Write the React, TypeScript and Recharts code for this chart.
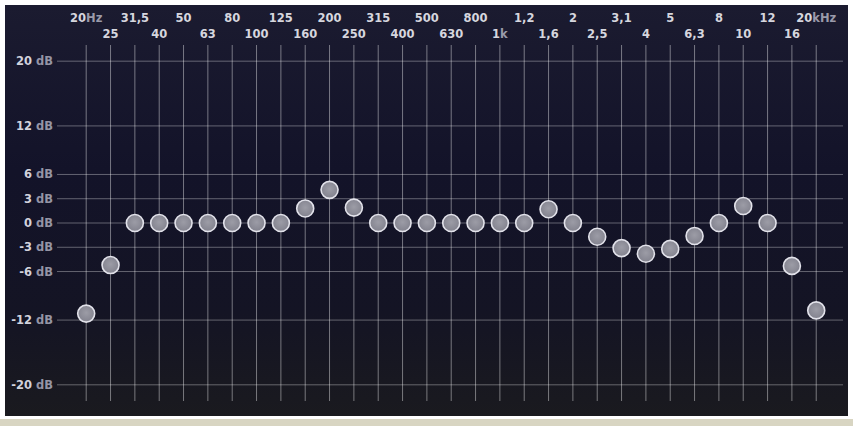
import React from 'react';
import { ScatterChart, Scatter, XAxis, YAxis, ReferenceLine } from 'recharts';

const bandLabels = [
    '20Hz', '25', '31,5', '40', '50', '63', '80', '100', '125', '160',
    '200', '250', '315', '400', '500', '630', '800', '1k', '1,2', '1,6',
    '2', '2,5', '3,1', '4', '5', '6,3', '8', '10', '12', '16', '20kHz',
];

const gainValues = [
    -11.2, -5.2, 0, 0, 0, 0, 0, 0, 0, 1.8,
    4.1, 1.9, 0, 0, 0, 0, 0, 0, 0, 1.7,
    0, -1.7, -3.1, -3.8, -3.2, -1.6, 0, 2.1, 0, -5.3, -10.8,
];

const dbTicks = [-20, -12, -6, -3, 0, 3, 6, 12, 20];

const data = gainValues.map((gain, i) => ({ i, gain }));

const FONT = '"DejaVu Sans", sans-serif';

function splitUnit(label: string) {
    const m = label.match(/^([\d,]+)(.*)$/);
    return m ? [m[1], m[2]] : [label, ''];
}

function FreqTick(props: any) {
    const { x, payload } = props;
    const idx = payload.value as number;
    const [num, unit] = splitUnit(bandLabels[idx]);
    const y = idx % 2 === 0 ? 22 : 38;
    return (
        <text x={x} y={y} textAnchor="middle" fontFamily={FONT} fontWeight="bold" fontSize={11.5}>
            <tspan fill="#d6d6de">{num}</tspan>
            {unit && <tspan fill="#9a9aaa">{unit}</tspan>}
        </text>
    );
}

function DbTick(props: any) {
    const { y, payload } = props;
    return (
        <text x={53} y={y + 4} textAnchor="end" fontFamily={FONT} fontWeight="bold" fontSize={11.5}>
            <tspan fill="#d2d2dc">{payload.value}</tspan>
            <tspan fill="#9595a5"> dB</tspan>
        </text>
    );
}

function Knob(props: any) {
    const { cx, cy } = props;
    return <circle cx={cx} cy={cy} r={8.5} fill="url(#knobFill)" stroke="#e2e2ea" strokeWidth={1.6} />;
}

export default function App() {
    return (
        <div style={{ position: 'absolute', left: 0, top: 0, width: 853, height: 426, background: '#ffffff' }}>
            <div
                style={{
                    position: 'absolute', left: 5, top: 5, width: 843, height: 411,
                    background: 'linear-gradient(180deg, #1b1b30 0%, #131329 40%, #141424 75%, #1a1a1f 100%)',
                }}
            />
            <div style={{ position: 'absolute', left: 0, top: 419, width: 853, height: 7, background: '#d8d5c2' }} />
            <div style={{ position: 'absolute', left: 0, top: 0 }}>
                <ScatterChart width={853} height={426} margin={{ top: 5, right: 10, bottom: 25, left: 7 }}>
                    <defs>
                        <radialGradient id="knobFill" cx="50%" cy="45%" r="60%">
                            <stop offset="0%" stopColor="#9c9ca6" />
                            <stop offset="100%" stopColor="#80808c" />
                        </radialGradient>
                    </defs>
                    <XAxis
                        type="number"
                        dataKey="i"
                        orientation="top"
                        height={40}
                        domain={[-1.2, 31.1]}
                        ticks={bandLabels.map((_, i) => i)}
                        interval={0}
                        axisLine={false}
                        tickLine={false}
                        tick={<FreqTick />}
                    />
                    <YAxis
                        type="number"
                        dataKey="gain"
                        width={50}
                        domain={[-22, 22]}
                        ticks={dbTicks}
                        interval={0}
                        axisLine={false}
                        tickLine={false}
                        tick={<DbTick />}
                    />
                    {dbTicks.map((t) => (
                        <ReferenceLine key={'h' + t} y={t} stroke="rgba(255,255,255,0.34)" strokeWidth={1} />
                    ))}
                    {bandLabels.map((_, i) => (
                        <ReferenceLine key={'v' + i} x={i} stroke="rgba(255,255,255,0.42)" strokeWidth={1} />
                    ))}
                    <Scatter data={data} shape={<Knob />} isAnimationActive={false} />
                </ScatterChart>
            </div>
        </div>
    );
}
